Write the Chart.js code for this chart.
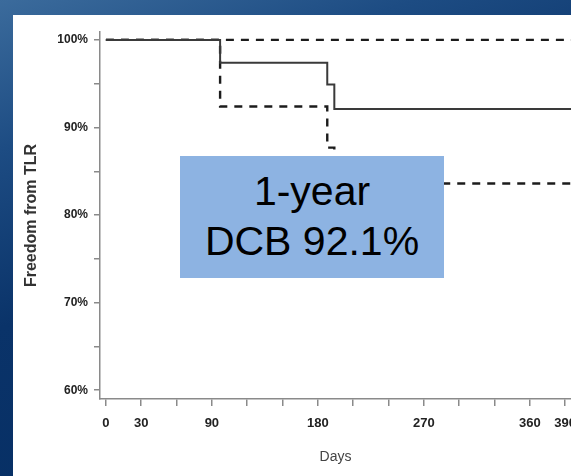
<!DOCTYPE html>
<html>
<head>
<meta charset="utf-8">
<script src="https://cdn.jsdelivr.net/npm/chart.js@4"></script>
<style>
  html,body{margin:0;padding:0}
  body{width:571px;height:476px;overflow:hidden;position:relative;
    background:linear-gradient(160deg,#3b6b9c 0%,#1d4c83 22%,#0a3369 48%,#042c61 100%);
    font-family:'Liberation Sans',Arial,sans-serif}
  #panel{position:absolute;left:13px;top:15px;width:558px;height:461px;background:#fff}
  #c{position:absolute;left:0;top:0}
  #box{position:absolute;left:167px;top:141px;width:264px;height:122px;background:#8db3e2;
    box-sizing:border-box;padding-top:10px;text-align:center;font-size:41px;line-height:50px;color:#000}
</style>
</head>
<body>
<div id="panel">
  <canvas id="c" width="558" height="461"></canvas>
  <div id="box">1-year<br>DCB 92.1%</div>
</div>
<script>
'use strict';

// ── Kaplan-Meier data ──
const kmDays   = [0, 97, 188, 194, 395];
const kmEst    = [100, 97.4, 94.9, 92.1, 92.1];
const ciUpper  = [100, 100, 100, 100, 100];
const ciLower  = [100, 92.4, 87.7, 83.6, 83.6];

// ── Axis ticks ──
const xTicks      = [0,30,60,90,120,150,180,210,240,270,300,330,360,390];
const xLabelDays  = [0,30,90,180,270,360,390];
const yTicks      = [60,65,70,75,80,85,90,95,100];
const yLabelVals  = [60,70,80,90,100];

const pts = ys => kmDays.map((d,i)=>({x:d, y:ys[i]}));
const FONT = "'Liberation Sans', Arial, sans-serif";
const AX = '#8a8a8a';

new Chart(document.getElementById('c'), {
  type:'line',
  data:{
    datasets:[
      { label:'Upper CI', data:pts(ciUpper), stepped:'before', borderColor:'#1c1c1c', borderWidth:2.4, borderDash:[8,7], pointRadius:0, fill:false, order:2 },
      { label:'Lower CI', data:pts(ciLower), stepped:'before', borderColor:'#1c1c1c', borderWidth:2.4, borderDash:[8,7], pointRadius:0, fill:false, order:2 },
      { label:'DCB', data:pts(kmEst), stepped:'before', borderColor:'#3a3a3a', borderWidth:2, pointRadius:0, fill:false, order:1 }
    ]
  },
  options:{
    responsive:false, animation:false, devicePixelRatio:1,
    layout:{padding:{top:17, left:0, right:0, bottom:0}},
    plugins:{legend:{display:false}, tooltip:{enabled:false}},
    scales:{
      x:{
        type:'linear', min:-5, max:395,
        afterBuildTicks:s=>{ s.ticks = xTicks.map(v=>({value:v})); },
        afterFit:s=>{ s.height = 77; s.paddingLeft = 0; s.paddingRight = 0; },
        ticks:{ autoSkip:false, maxRotation:0, padding:10, color:'#222',
          font:{family:FONT, size:13, weight:'bold'},
          callback:v=> xLabelDays.includes(v) ? String(v) : '' },
        grid:{ drawOnChartArea:false, drawTicks:true, tickLength:7, color:AX, lineWidth:1.5 },
        border:{ display:true, color:AX, width:1.5 },
        title:{ display:true, text:'Days', color:'#444', padding:{top:4,bottom:10},
          font:{family:FONT, size:14} }
      },
      y:{
        min:59, max:100.9,
        afterBuildTicks:s=>{ s.ticks = yTicks.map(v=>({value:v})); },
        afterFit:s=>{ s.width = 87; s.paddingTop = 0; s.paddingBottom = 0; },
        ticks:{ padding:6, color:'#222',
          font:{family:FONT, size:12, weight:'bold'},
          callback:v=> yLabelVals.includes(v) ? v+'%' : '' },
        grid:{ drawOnChartArea:false, drawTicks:true, tickLength:6, color:AX, lineWidth:1.5 },
        border:{ display:true, color:AX, width:1.5 },
        title:{ display:true, text:'Freedom from TLR', color:'#333', padding:{top:9,bottom:4},
          font:{family:FONT, size:16, weight:'bold'} }
      }
    }
  }
});
</script>
</body>
</html>
